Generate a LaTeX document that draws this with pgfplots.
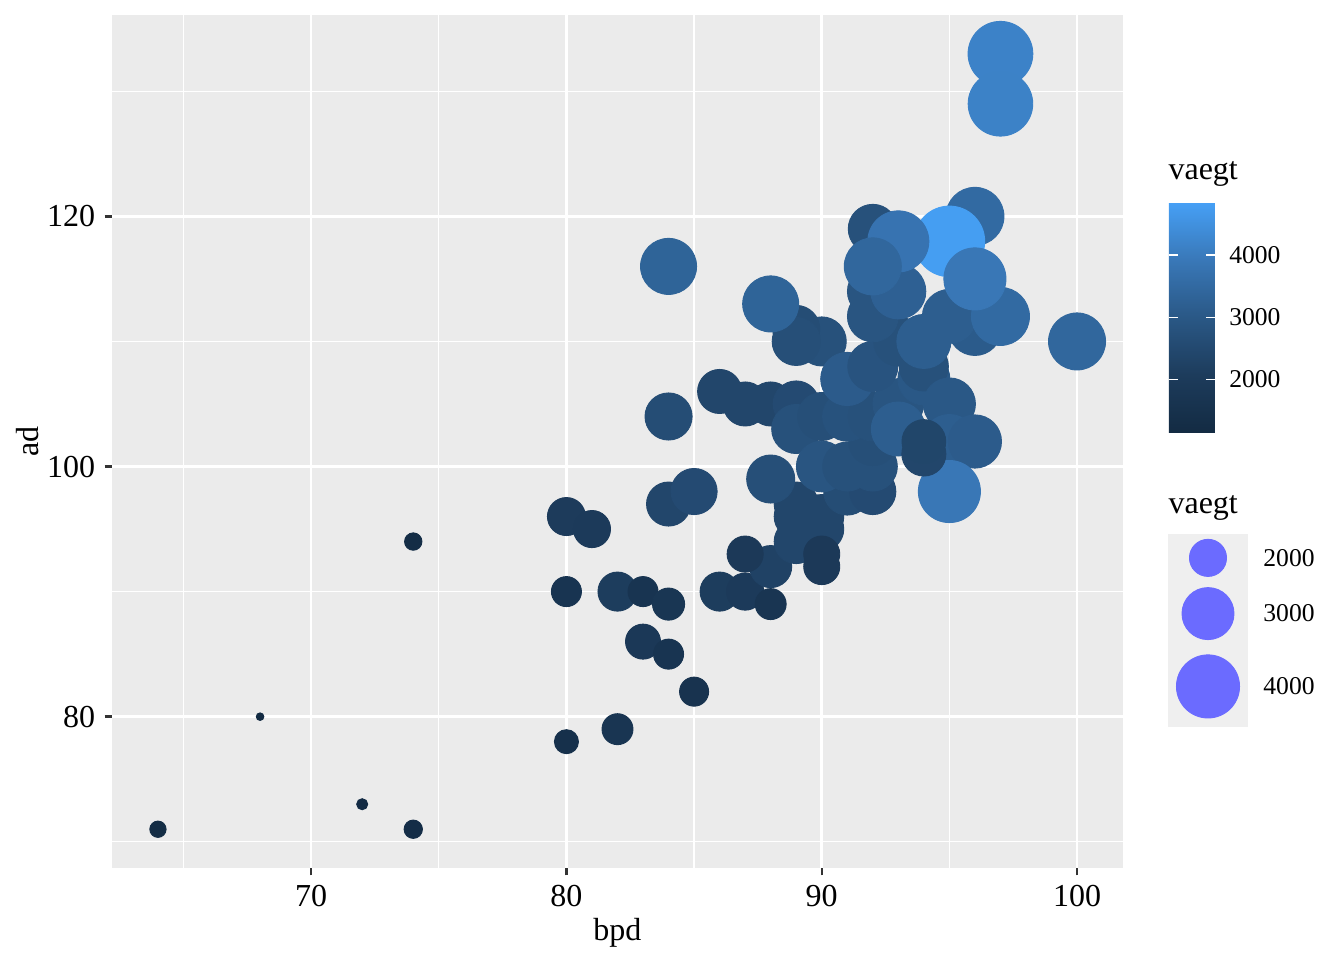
\documentclass[border=0pt]{standalone}
\usepackage{fontspec}
\setmainfont{Liberation Serif}
\usepackage{pgfplots}
\usepackage{pgfplotstable}
\pgfplotsset{compat=1.18}

\definecolor{panel}{HTML}{EBEBEB}
\definecolor{tickgrey}{HTML}{333333}
\definecolor{keygrey}{HTML}{EFEFEF}
\definecolor{keyblue}{HTML}{6B6BFF}

% bpd, ad, vaegt
\pgfplotstableread{
bpd ad w
64 71 1250
68 80 1160
72 73 1180
74 71 1290
74 94 1270
80 78 1440
82 79 1700
85 82 1620
83 86 1890
84 85 1660
80 90 1660
82 90 2110
83 90 1660
84 89 1750
80 96 2050
81 95 2000
84 97 2420
85 98 2560
84 104 2630
84 116 3340
86 106 2420
87 105 2420
88 105 2420
89 105 2560
86 90 2110
87 90 2000
88 89 1700
88 92 2290
87 93 1945
89 94 2420
89 97 2420
89 96 2420
90 96 2420
90 95 2420
90 93 1945
90 92 1945
88 99 2700
89 103 2775
90 110 2775
89 111 2630
89 110 2700
88 113 3340
91 98 2630
92 98 2560
92 100 2775
90 100 2900
91 100 2775
92 102 2700
90 104 2700
91 104 2800
92 104 2775
93 105 2900
94 107 3000
91 107 3100
92 108 2850
93 110 2775
94 108 2775
92 112 2900
92 114 2900
93 114 3250
96 111 3090
95 112 3170
97 112 3520
94 110 3170
92 119 2775
96 120 3520
95 118 4800
93 118 3800
92 116 3430
96 115 3900
100 110 3430
95 105 3010
93 103 3170
95 102 3170
96 102 3100
95 98 3900
94 101 2420
94 102 2400
97 133 4170
97 129 4150
}\secher

\begin{document}
\begin{tikzpicture}
\path[use as bounding box] (0,0) rectangle (504pt,360pt);

\begin{axis}[
  at={(42pt,34.5pt)}, anchor=south west,
  scale only axis, width=379.125pt, height=319.875pt,
  xmin=62.2, xmax=101.8, ymin=67.9, ymax=136.1,
  axis background/.style={fill=panel},
  axis line style={draw=none},
  xtick={70,80,90,100}, ytick={80,100,120},
  minor xtick={65,75,85,95}, minor ytick={70,90,110,130},
  grid=both,
  major grid style={white, line width=1pt},
  minor grid style={white, line width=0.5pt},
  tick align=outside, tick pos=left,
  major tick length=2.75pt, minor tick length=0pt,
  major tick style={tickgrey, line width=0.9pt},
  ticklabel style={font=\fontsize{12}{14}\selectfont, black},
  /pgf/number format/assume math mode=true,
  label style={font=\fontsize{12}{14}\selectfont},
  xlabel=bpd, ylabel=ad,
  xlabel style={yshift=2.25pt},
  ylabel style={yshift=-3.75pt},
  colormap={gg}{rgb255=(19,43,67) rgb255=(29,60,92) rgb255=(42,88,134) rgb255=(57,120,184) rgb255=(70,160,246)},
  point meta min=1158, point meta max=4852,
  colorbar,
  colorbar/width=17.25pt,
  colorbar style={
    at={(parent axis.north east)}, anchor=north west,
    xshift=8.625pt, yshift=-70.125pt,
    height=86.25pt,
    axis line style={draw=none},
    grid=none,
    xtick=\empty,
    ytick={2000,3000,4000},
    scaled y ticks=false,
    ytick pos=right, yticklabel pos=right,
    extra y ticks={2000,3000,4000},
    extra y tick labels={},
    extra y tick style={ytick pos=left, yticklabel pos=left},
    tick align=inside,
    major tick length=3.45pt,
    major tick style={white, line width=0.6pt},
    yticklabel style={font=\fontsize{9.6}{11}\selectfont, black, xshift=1.9pt,
      /pgf/number format/1000 sep={}},
    /pgf/number format/assume math mode=true,
  },
]
\addplot[
  scatter, only marks, mark=*,
  point meta=explicit,
  scatter/use mapped color={draw=mapped color, fill=mapped color},
  mark options={line width=0.35pt},
  visualization depends on={1.1375+12.1875*sqrt(max(\thisrow{w}-1158,0)/3694) \as \rad},
  scatter/@pre marker code/.append style={/tikz/mark size=\rad pt},
] table[x=bpd, y=ad, meta=w] {\secher};
\end{axis}

% size legend
\begin{axis}[
  at={(438pt,87.4pt)}, anchor=south west,
  scale only axis, width=30pt, height=72.4pt,
  xmin=-1, xmax=1, ymin=0, ymax=193,
  axis background/.style={fill=keygrey},
  axis line style={draw=none},
  xtick=\empty,
  ytick={40.5,113.3,169}, yticklabels={4000,3000,2000},
  ytick pos=right, yticklabel pos=right,
  major tick length=0pt,
  yticklabel style={font=\fontsize{9.6}{11}\selectfont, black, xshift=2.25pt},
  clip=false,
]
\addplot[only marks, mark=*, mark size=6.95pt, mark options={fill=keyblue, draw=keyblue, line width=0.35pt}] coordinates {(0,169)};
\addplot[only marks, mark=*, mark size=9.75pt, mark options={fill=keyblue, draw=keyblue, line width=0.35pt}] coordinates {(0,113.3)};
\addplot[only marks, mark=*, mark size=11.83pt, mark options={fill=keyblue, draw=keyblue, line width=0.35pt}] coordinates {(0,40.5)};
\end{axis}

\node[anchor=west, inner sep=0pt, font=\fontsize{12}{14}\selectfont] at (438pt,294.6pt) {vaegt};
\node[anchor=west, inner sep=0pt, font=\fontsize{12}{14}\selectfont] at (438pt,169.5pt) {vaegt};
\end{tikzpicture}
\end{document}
